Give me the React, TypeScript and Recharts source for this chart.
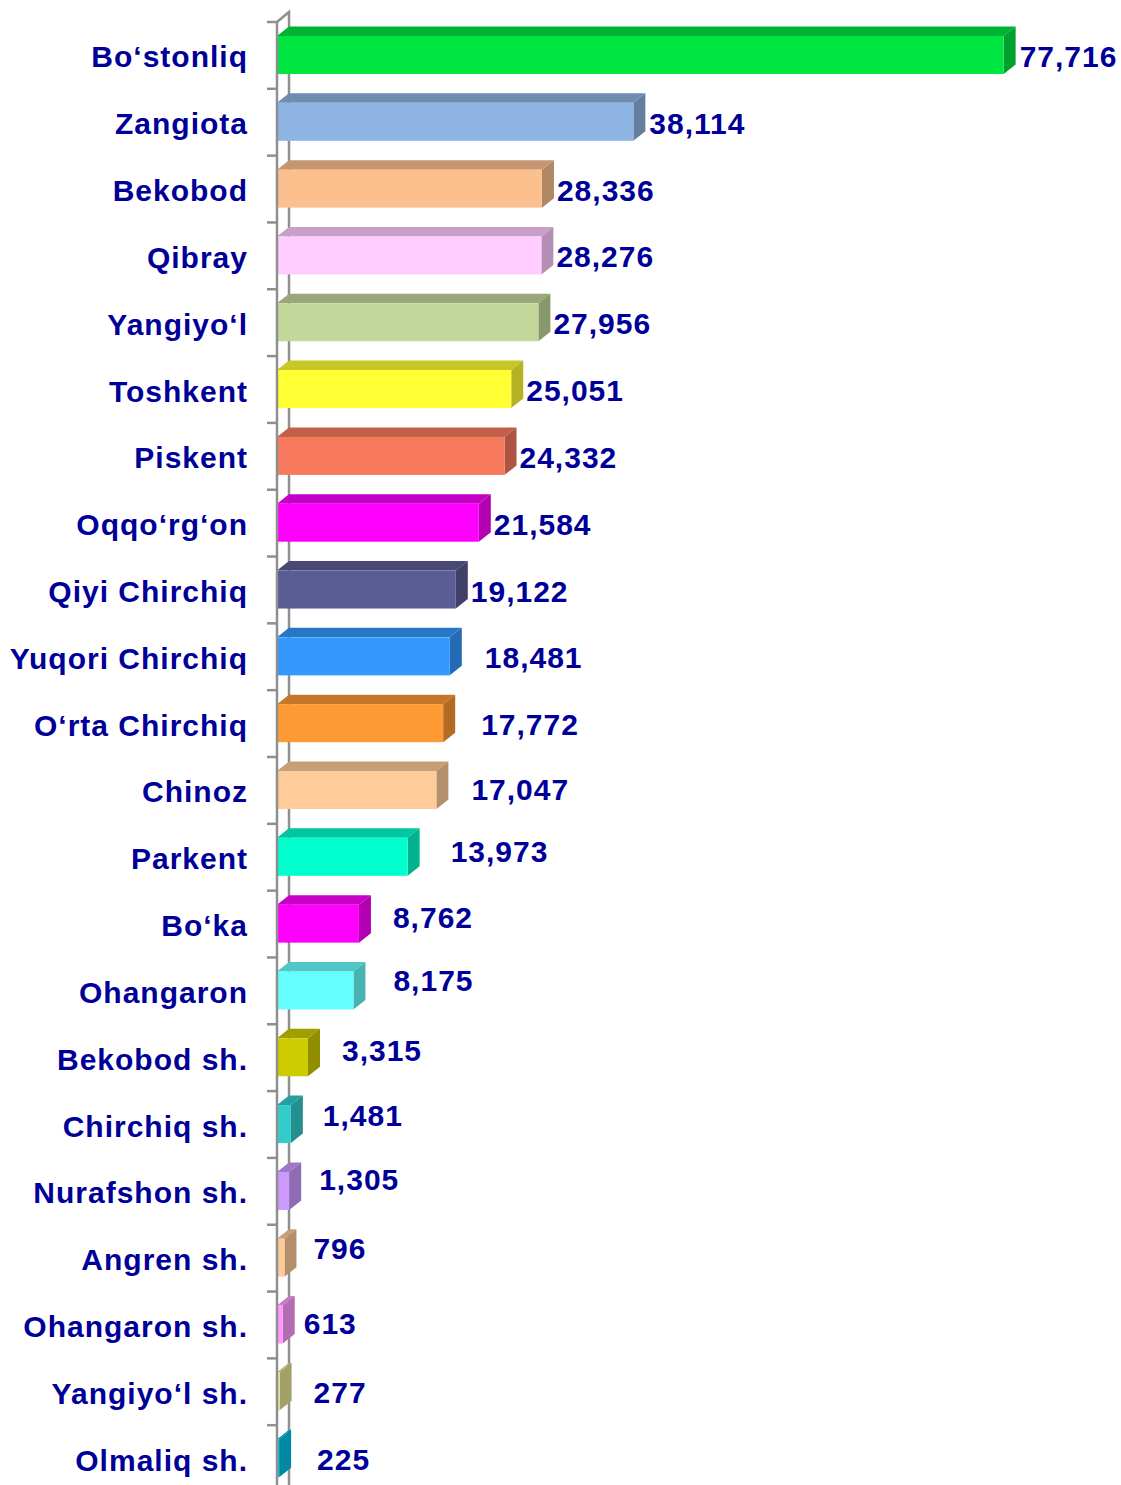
import { BarChart, Bar, XAxis, YAxis, CartesianGrid, LabelList } from "recharts";

const DISTRICTS = [
  "Bo‘stonliq",
  "Zangiota",
  "Bekobod",
  "Qibray",
  "Yangiyo‘l",
  "Toshkent",
  "Piskent",
  "Oqqo‘rg‘on",
  "Qiyi Chirchiq",
  "Yuqori Chirchiq",
  "O‘rta Chirchiq",
  "Chinoz",
  "Parkent",
  "Bo‘ka",
  "Ohangaron",
  "Bekobod sh.",
  "Chirchiq sh.",
  "Nurafshon sh.",
  "Angren sh.",
  "Ohangaron sh.",
  "Yangiyo‘l sh.",
  "Olmaliq sh.",
];

const VALUES = [
  77716, 38114, 28336, 28276, 27956, 25051, 24332, 21584, 19122, 18481, 17772,
  17047, 13973, 8762, 8175, 3315, 1481, 1305, 796, 613, 277, 225,
];

const BAR_COLORS = [
  "#00E640", "#8DB4E2", "#FCC08E", "#FFCCFF", "#C4D79B", "#FFFF33",
  "#F87A5E", "#FF00FF", "#5C5C94", "#3399FF", "#FF9933", "#FFCC99",
  "#00FFCC", "#FF00FF", "#66FFFF", "#CCCC00", "#33CCCC", "#CC99FF",
  "#FFCC99", "#FF99FF", "#E8E894", "#00C4E8",
];

// data labels were moved by hand in the original, extra gap / vertical shift in px
const LABEL_GAP = [4, 4, 3, 3, 3, 3, 3, 3, 3, 23, 26, 23, 31, 22, 28, 22, 20, 18, 17, 9, 22, 26];
const LABEL_SHIFT = [0, 0, 0, 0, 0, 0, 0, 0, 0, 0, 0, -2, -7, -8, -11, -8, -10, -13, -11, -3, 0, 0];

const W = 1121;
const H = 1500;
const MARGIN = { top: 22, right: 96, bottom: 8, left: 0 };
const AXIS_W = 277;
const BAND = (H - MARGIN.top - MARGIN.bottom) / DISTRICTS.length;
const DX = 12; // 3d depth
const DY = 9.5;
const TEXT = "#000099";
const FONT = "'Liberation Sans', Arial, sans-serif";

const data = DISTRICTS.map((name, i) => ({ name, value: VALUES[i] }));

function shade(hex: string, k: number) {
  const n = parseInt(hex.slice(1), 16);
  const r = Math.round(((n >> 16) & 255) * k);
  const g = Math.round(((n >> 8) & 255) * k);
  const b = Math.round((n & 255) * k);
  return `rgb(${r},${g},${b})`;
}

const Bar3D = (props: any) => {
  const { x, y, width, height, index } = props;
  const c = BAR_COLORS[index];
  return (
    <g>
      <path
        d={`M${x},${y} L${x + DX},${y - DY} L${x + width + DX},${y - DY} L${x + width},${y} Z`}
        fill={shade(c, 0.78)}
      />
      <path
        d={`M${x + width},${y} L${x + width + DX},${y - DY} L${x + width + DX},${y + height - DY} L${x + width},${y + height} Z`}
        fill={shade(c, 0.7)}
      />
      <rect x={x} y={y} width={width} height={height} fill={c} />
    </g>
  );
};

const ValueLabel = (props: any) => {
  const { x, y, width, height, value, index } = props;
  return (
    <text
      x={x + width + DX + LABEL_GAP[index]}
      y={y + height / 2 + 12 + LABEL_SHIFT[index]}
      fill={TEXT}
      fontSize={30}
      fontWeight="bold"
      fontFamily={FONT}
      letterSpacing={1}
    >
      {Number(value).toLocaleString("en-US")}
    </text>
  );
};

const CategoryTick = (props: any) => {
  const { x, y, payload } = props;
  return (
    <g>
      <line x1={x - 10} x2={x} y1={y - BAND / 2} y2={y - BAND / 2} stroke="#8f8f8f" strokeWidth={2.5} />
      <text
        x={x - 29}
        y={y + 12}
        textAnchor="end"
        fill={TEXT}
        fontSize={30}
        fontWeight="bold"
        fontFamily={FONT}
        letterSpacing={1}
      >
        {payload.value}
      </text>
    </g>
  );
};

// back edge of the 3d wall behind the category axis
const BackWall = (p: any) => (
  <path
    d={`M${p.x1 - DX},${p.y1} L${p.x1},${p.y1 - 10} L${p.x2},${p.y2}`}
    stroke="#8f8f8f"
    strokeWidth={2.5}
    fill="none"
  />
);

export default function App() {
  return (
    <div style={{ position: "absolute", left: 0, top: 0, width: W, height: 1485, overflow: "hidden", background: "#fff" }}>
      <BarChart width={W} height={H} data={data} layout="vertical" margin={MARGIN} barSize={38}>
        <CartesianGrid
          horizontal={false}
          vertical={BackWall}
          verticalCoordinatesGenerator={({ offset }: any) => [offset.left + DX]}
        />
        <XAxis type="number" domain={[0, 80000]} hide />
        <YAxis
          type="category"
          dataKey="name"
          width={AXIS_W}
          interval={0}
          axisLine={{ stroke: "#8f8f8f", strokeWidth: 2.5 }}
          tickLine={false}
          tickSize={0}
          tickMargin={0}
          tick={<CategoryTick />}
        />
        <Bar dataKey="value" shape={Bar3D} isAnimationActive={false}>
          <LabelList dataKey="value" content={ValueLabel} />
        </Bar>
      </BarChart>
    </div>
  );
}
